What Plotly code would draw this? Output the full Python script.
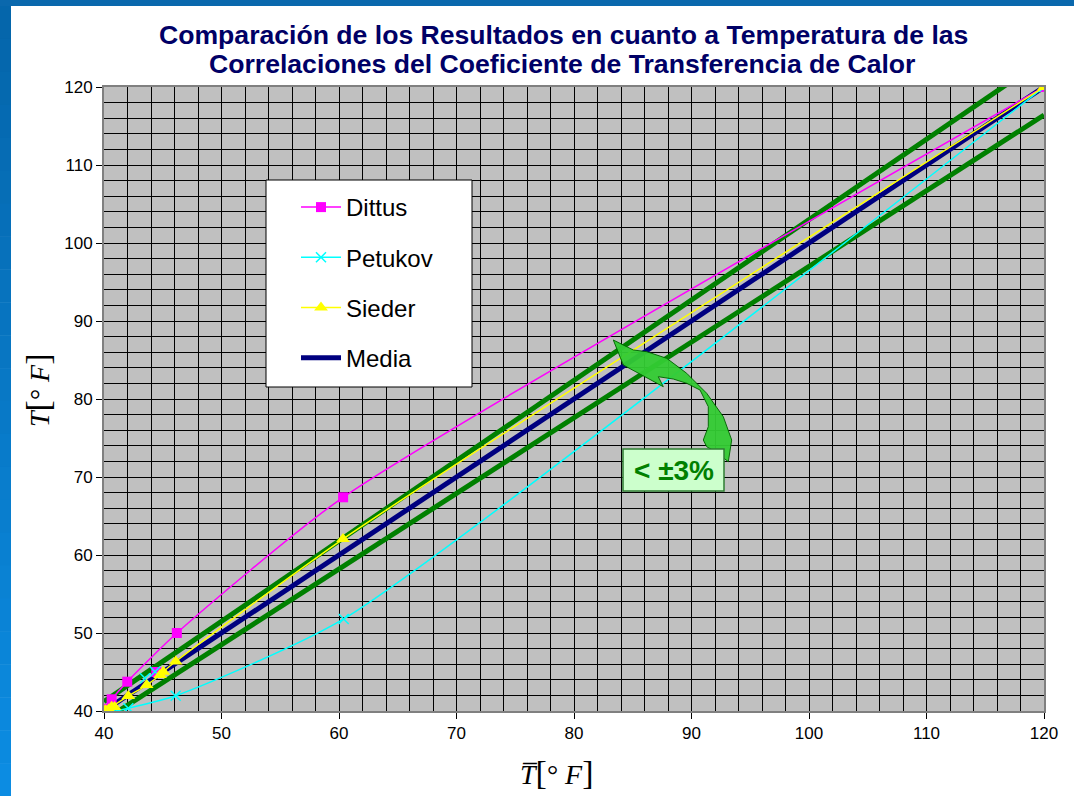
import plotly.graph_objects as go

# ---------------- data ----------------
dittus_x = [40.1, 40.65, 41.98, 46.2, 60.35, 120.0]
dittus_y = [40.3, 41.5, 43.76, 50.0, 67.4, 120.0]
dittus_extra_x = [44.45]
dittus_extra_y = [45.0]

petukov_x = [40.1, 40.8, 42.07, 46.1, 60.4, 120.0]
petukov_y = [40.05, 39.95, 40.35, 41.95, 51.8, 120.0]
petukov_extra_x = [43.49, 44.34]
petukov_extra_y = [44.19, 45.04]

sieder_x = [40.1, 40.65, 42.07, 43.63, 44.77, 45.05, 46.1, 60.34, 120.0]
sieder_y = [40.1, 40.55, 41.92, 43.33, 44.62, 45.04, 46.35, 62.05, 120.0]
sieder_extra_x = [40.2, 40.4, 40.9]
sieder_extra_y = [40.0, 40.2, 40.5]

media_x = [40.0, 120.0]
media_y = [40.0, 120.0]

band_x = [40.0, 120.0]
band_upper = [41.2, 123.6]
band_lower = [38.8, 116.4]

x_ticks = [40, 50, 60, 70, 80, 90, 100, 110, 120]
y_ticks = [40, 50, 60, 70, 80, 90, 100, 110, 120]

title_lines = ["Comparación de los Resultados en cuanto a Temperatura de las",
               "Correlaciones del Coeficiente de Transferencia de Calor"]
band_label = "< ±3%"

# ---------------- layout helpers (pixel -> data) ----------------
PX_L, PX_R, PX_T, PX_B = 104, 1044, 87, 711
W, H = 1074, 796


def px2x(p):
    return 40 + (p - PX_L) * 80 / (PX_R - PX_L)


def px2y(p):
    return 40 + (PX_B - p) * 80 / (PX_B - PX_T)


def pxx(p):  # paper x
    return (p - PX_L) / (PX_R - PX_L)


def pxy(p):  # paper y
    return (PX_B - p) / (PX_B - PX_T)


fig = go.Figure()

GREEN = "#008000"
for yy in (band_upper, band_lower):
    fig.add_trace(go.Scatter(x=band_x, y=yy, mode="lines",
                             line=dict(color=GREEN, width=5),
                             showlegend=False, hoverinfo="skip"))

fig.add_trace(go.Scatter(x=media_x, y=media_y, mode="lines", name="Media",
                         line=dict(color="#000080", width=5),
                         legendgroup="d", legendrank=4))

SM = 0.6
fig.add_trace(go.Scatter(x=dittus_x, y=dittus_y, mode="lines+markers", name="Dittus",
                         line=dict(color="#FF00FF", width=1.5, shape="spline", smoothing=SM),
                         marker=dict(symbol="square", size=10, color="#FF00FF"),
                         legendgroup="a", legendrank=1))
fig.add_trace(go.Scatter(x=dittus_extra_x, y=dittus_extra_y, mode="markers",
                         marker=dict(symbol="square", size=10, color="#FF00FF"),
                         showlegend=False, legendgroup="a"))

fig.add_trace(go.Scatter(x=petukov_x, y=petukov_y, mode="lines+markers", name="Petukov",
                         line=dict(color="#00FFFF", width=1.5, shape="spline", smoothing=SM),
                         marker=dict(symbol="x-thin", size=10, color="#00FFFF",
                                     line=dict(color="#00FFFF", width=1.5)),
                         legendgroup="b", legendrank=2))
fig.add_trace(go.Scatter(x=petukov_extra_x, y=petukov_extra_y, mode="markers",
                         marker=dict(symbol="x-thin", size=10, color="#00FFFF",
                                     line=dict(color="#00FFFF", width=1.5)),
                         showlegend=False, legendgroup="b"))

fig.add_trace(go.Scatter(x=sieder_x, y=sieder_y, mode="lines+markers", name="Sieder",
                         line=dict(color="#FFFF00", width=1.5, shape="spline", smoothing=SM),
                         marker=dict(symbol="triangle-up", size=12, color="#FFFF00"),
                         legendgroup="c", legendrank=3))
fig.add_trace(go.Scatter(x=sieder_extra_x, y=sieder_extra_y, mode="markers",
                         marker=dict(symbol="triangle-up", size=12, color="#FFFF00"),
                         showlegend=False, legendgroup="c"))

shapes = []
# blue frame strips
shapes.append(dict(type="rect", xref="paper", yref="paper",
                   x0=pxx(0), x1=pxx(W), y0=pxy(0), y1=pxy(6),
                   fillcolor="#0A68AD", line=dict(width=0), layer="above"))
N = 24
for i in range(N):
    t = i / (N - 1)
    r = int(5 + (12 - 5) * t)
    g = int(0x66 + (0x8C - 0x66) * t)
    b = int(0xAB + (0xE2 - 0xAB) * t)
    y0p = 6 + (H - 6) * i / N
    y1p = 6 + (H - 6) * (i + 1) / N
    shapes.append(dict(type="rect", xref="paper", yref="paper",
                       x0=pxx(0), x1=pxx(11), y0=pxy(y0p), y1=pxy(y1p + 0.5),
                       fillcolor=f"rgb({r},{g},{b})", line=dict(width=0), layer="above"))

# legend box
shapes.append(dict(type="rect", xref="paper", yref="paper",
                   x0=pxx(266), x1=pxx(472), y0=pxy(180), y1=pxy(387),
                   fillcolor="white", line=dict(color="black", width=1), layer="above"))

# curved arrow
arrow_px = [(613.3, 340), (633.3, 350), (646.7, 351.7), (666.7, 358.3), (686.7, 373.3),
            (706.7, 393.3), (723.3, 416.7), (731.7, 440), (728.3, 461.7),
            (716, 452), (706.7, 446.7), (703.3, 440), (708.3, 426.7), (708.3, 406.7),
            (700, 390), (686.7, 383.3), (673.3, 379), (658.3, 376.7), (663.3, 386.7),
            (623.3, 365)]
path = "M " + " L ".join(f"{px2x(a):.3f},{px2y(b):.3f}" for a, b in arrow_px) + " Z"
shapes.append(dict(type="path", xref="x", yref="y", path=path,
                   fillcolor="#33CC33", opacity=0.95,
                   line=dict(color="#006600", width=1), layer="above"))

# label box
shapes.append(dict(type="rect", xref="paper", yref="paper",
                   x0=pxx(623), x1=pxx(724), y0=pxy(449), y1=pxy(491),
                   fillcolor="#CCFFCC", line=dict(color="#2E7D32", width=1.5), layer="above"))

TITLE_FONT = dict(family="Liberation Sans, Arial", size=26.6, color="#000066")
annotations = [
    dict(text="<b>" + title_lines[0] + "</b>", xref="paper", yref="paper",
         x=pxx(563), y=pxy(35), xanchor="center", yanchor="middle", showarrow=False,
         font=TITLE_FONT),
    dict(text="<b>" + title_lines[1] + "</b>", xref="paper", yref="paper",
         x=pxx(562), y=pxy(64), xanchor="center", yanchor="middle", showarrow=False,
         font=TITLE_FONT),
    dict(text="<b>" + band_label + "</b>", xref="paper", yref="paper", x=pxx(673.5), y=pxy(470),
         xanchor="center", yanchor="middle", showarrow=False,
         font=dict(family="Liberation Sans, Arial", size=28, color="#008000")),
    dict(text="<i>T</i><span style='font-size:34px'>[</span>° <i>F</i><span style='font-size:34px'>]</span>",
         xref="paper", yref="paper", x=pxx(37), y=pxy(390), textangle=-90,
         xanchor="center", yanchor="middle", showarrow=False,
         font=dict(family="Liberation Serif, Times New Roman", size=28, color="black")),
    dict(text="<i>T\u0305</i><span style='font-size:34px'>[</span>° <i>F</i><span style='font-size:34px'>]</span>",
         xref="paper", yref="paper", x=pxx(557), y=pxy(772),
         xanchor="center", yanchor="middle", showarrow=False,
         font=dict(family="Liberation Serif, Times New Roman", size=28, color="black")),
]

axis_common = dict(
    range=[40, 120], dtick=10, tick0=40, showgrid=True, gridcolor="black", gridwidth=1,
    minor=dict(dtick=2, showgrid=True, gridcolor="black", gridwidth=1, ticks=""),
    ticks="outside", ticklen=6, tickcolor="black", tickwidth=1,
    showline=True, linecolor="#808080", linewidth=2, mirror=True, zeroline=False,
    tickfont=dict(family="Liberation Sans, Arial", size=17, color="black"),
)

fig.update_layout(
    width=W, height=H,
    margin=dict(l=PX_L, r=W - PX_R, t=PX_T, b=H - PX_B, pad=0),
    paper_bgcolor="white", plot_bgcolor="#C0C0C0",
    xaxis=dict(axis_common, tickvals=x_ticks),
    yaxis=dict(axis_common, tickvals=y_ticks),
    shapes=shapes, annotations=annotations,
    showlegend=True,
    legend=dict(x=pxx(296), y=pxy(185), xanchor="left", yanchor="top",
                bgcolor="rgba(0,0,0,0)", borderwidth=0,
                font=dict(family="Liberation Sans, Arial", size=24, color="black"),
                traceorder="grouped", tracegroupgap=16, itemwidth=40),
)

fig.write_html("out.html", config={"displayModeBar": False},
               post_script="document.body.style.margin='0';")
